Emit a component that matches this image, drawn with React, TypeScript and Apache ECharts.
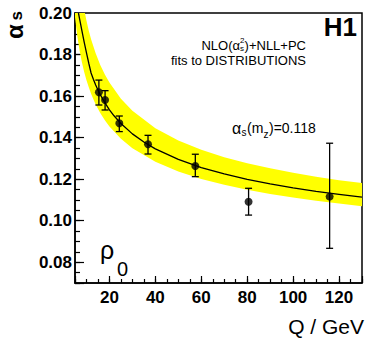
import React, { useEffect, useRef } from 'react';
import * as echarts from 'echarts';

// Measured data points (Q in GeV, alpha_s) with error bars
const qPoints = [15.4, 18.1, 24.3, 36.8, 57.4, 80.6, 115.9];
const alphaPoints = [0.1618, 0.1581, 0.1469, 0.1368, 0.1263, 0.1091, 0.1116];
const errHigh = [0.1677, 0.1626, 0.1504, 0.1411, 0.132, 0.1156, 0.1373];
const errLow = [0.1557, 0.1533, 0.1429, 0.1321, 0.1212, 0.1027, 0.0867];

// Fitted curve
const curveQ = [6.5, 7, 8, 9, 10, 11, 12, 13, 14, 15, 16, 18, 20, 22, 25, 30, 35, 40, 50, 60, 70, 80, 90, 100, 110, 120, 130];
const curveAlpha = [0.2, 0.1972, 0.1915, 0.186, 0.1808, 0.1758, 0.1711, 0.1681, 0.1653, 0.1629, 0.1607, 0.1568, 0.1534, 0.1505, 0.1468, 0.1418, 0.1379, 0.1346, 0.1295, 0.1256, 0.1225, 0.1199, 0.1177, 0.1158, 0.1141, 0.1127, 0.1113];

// Uncertainty band (upper / lower edges)
const bandQ = [5, 6, 7, 8, 9, 10, 11, 12, 14, 16, 18, 20, 25, 30, 40, 50, 60, 70, 80, 90, 100, 110, 120, 130];
const bandHigh = [0.2391, 0.2261, 0.2162, 0.2083, 0.2017, 0.1963, 0.1915, 0.1874, 0.1806, 0.175, 0.1704, 0.1665, 0.1587, 0.1529, 0.1445, 0.1386, 0.1342, 0.1306, 0.1277, 0.1252, 0.1231, 0.1212, 0.1195, 0.1181];
const bandLow = [0.1979, 0.1889, 0.1819, 0.1763, 0.1716, 0.1676, 0.1642, 0.1611, 0.156, 0.1519, 0.1484, 0.1454, 0.1394, 0.1349, 0.1284, 0.1237, 0.1201, 0.1173, 0.1149, 0.1129, 0.1112, 0.1096, 0.1083, 0.107];

// Tick labels
const xTicks = [20, 40, 60, 80, 100, 120];
const yTicks = [0.08, 0.1, 0.12, 0.14, 0.16, 0.18, 0.2];

const FONT = 'Liberation Sans, Arial, sans-serif';

function txt(text: string, x: number, y: number, size: number, opts: any = {}) {
  return {
    type: 'text',
    x,
    y,
    rotation: opts.rotation || 0,
    silent: true,
    z: 100,
    style: {
      text,
      fontSize: size,
      fontFamily: FONT,
      fontWeight: opts.bold ? 'bold' : 'normal',
      fill: '#000',
      textAlign: opts.align || 'left',
      textVerticalAlign: 'middle',
      verticalAlign: 'middle',
    },
  };
}

export default function App() {
  const ref = useRef<HTMLDivElement>(null);
  useEffect(() => {
    document.body.style.margin = '0';
    const chart = echarts.init(ref.current!, undefined, { renderer: 'svg' });
    const tickStyle = { color: '#000', width: 1.2 };
    const option: any = {
      animation: false,
      backgroundColor: '#fff',
      grid: { left: 75, top: 13, width: 292, height: 270, show: true, borderColor: '#000', borderWidth: 1.5, backgroundColor: 'transparent' },
      xAxis: [
        {
          type: 'value', min: 5, max: 130, minInterval: 20, maxInterval: 20, position: 'bottom',
          axisLine: { show: true, onZero: false, lineStyle: { color: '#000', width: 1.5 } },
          axisTick: { show: true, inside: true, length: 7, lineStyle: tickStyle },
          axisLabel: {
            color: '#000', fontSize: 17, fontWeight: 'bold', fontFamily: FONT, margin: 6,
            formatter: (v: number) => (xTicks.some((t) => Math.abs(t - v) < 1e-6) ? String(v) : ''),
          },
          splitLine: { show: false },
        },
        {
          type: 'value', min: 5, max: 130, interval: 5, position: 'bottom',
          axisLine: { show: false, onZero: false },
          axisTick: { show: true, inside: true, length: 4, lineStyle: tickStyle },
          axisLabel: { show: false },
          splitLine: { show: false },
        },
      ],
      yAxis: [
        {
          type: 'value', min: 0.07, max: 0.2, minInterval: 0.02, maxInterval: 0.02, position: 'left',
          axisLine: { show: true, onZero: false, lineStyle: { color: '#000', width: 1.5 } },
          axisTick: { show: true, inside: true, length: 9, lineStyle: tickStyle },
          axisLabel: {
            color: '#000', fontSize: 17, fontWeight: 'bold', fontFamily: FONT, margin: 3,
            formatter: (v: number) => {
              const t = yTicks.find((t) => Math.abs(t - v) < 1e-9);
              return t === undefined ? '' : t.toFixed(2);
            },
          },
          splitLine: { show: false },
        },
        {
          type: 'value', min: 0.07, max: 0.2, interval: 0.005, position: 'left',
          axisLine: { show: false, onZero: false },
          axisTick: { show: true, inside: true, length: 5, lineStyle: tickStyle },
          axisLabel: { show: false },
          splitLine: { show: false },
        },
      ],
      series: [
        {
          type: 'custom',
          clip: true,
          silent: true,
          z: 1,
          data: [[bandQ[0], bandLow[0]]],
          renderItem: (_p: any, api: any) => {
            const pts: number[][] = [];
            for (let i = 0; i < bandQ.length; i++) pts.push(api.coord([bandQ[i], bandHigh[i]]));
            for (let i = bandQ.length - 1; i >= 0; i--) pts.push(api.coord([bandQ[i], bandLow[i]]));
            return { type: 'polygon', shape: { points: pts }, style: { fill: '#ffff00', stroke: null } };
          },
        },
        {
          type: 'line',
          z: 3,
          data: curveQ.map((q, i) => [q, curveAlpha[i]]),
          showSymbol: false,
          smooth: false,
          lineStyle: { color: '#000', width: 1.3 },
          silent: true,
        },
        {
          type: 'custom',
          z: 4,
          silent: true,
          data: qPoints.map((q, i) => [q, errLow[i], errHigh[i]]),
          encode: { x: 0, y: [1, 2] },
          renderItem: (_p: any, api: any) => {
            const x = api.value(0);
            const lo = api.coord([x, api.value(1)]);
            const hi = api.coord([x, api.value(2)]);
            const w = 3.5;
            const st = { stroke: '#000', lineWidth: 1.3 };
            return {
              type: 'group',
              children: [
                { type: 'line', shape: { x1: lo[0], y1: lo[1], x2: hi[0], y2: hi[1] }, style: st },
                { type: 'line', shape: { x1: lo[0] - w, y1: lo[1], x2: lo[0] + w, y2: lo[1] }, style: st },
                { type: 'line', shape: { x1: hi[0] - w, y1: hi[1], x2: hi[0] + w, y2: hi[1] }, style: st },
              ],
            };
          },
        },
        {
          type: 'scatter',
          z: 5,
          silent: true,
          data: qPoints.map((q, i) => [q, alphaPoints[i]]),
          symbol: 'circle',
          symbolSize: 8,
          itemStyle: { color: '#000' },
        },
      ],
      graphic: [
        // y-axis title alpha_s (rotated)
        txt('α', 14.5, 39, 24, { bold: true, rotation: Math.PI / 2 }),
        txt('s', 16, 20.5, 17, { bold: true, rotation: Math.PI / 2 }),
        // H1
        txt('H1', 357, 27, 26, { bold: true, align: 'right' }),
        // NLO(alpha_s^2)+NLL+PC
        txt(')+NLL+PC', 306, 45.5, 13, { align: 'right' }),
        txt('2', 240, 40, 8),
        txt('s', 240, 48.5, 8),
        txt('NLO(α', 240, 45.5, 13, { align: 'right' }),
        txt('fits to DISTRIBUTIONS', 306, 60, 13, { align: 'right' }),
        // alpha_s(m_z)=0.118
        txt('α', 232, 128, 16),
        txt('s', 241.5, 132, 10),
        txt('(m', 247, 128, 14),
        txt('z', 263.5, 134, 10),
        txt(')=0.118', 269, 128, 14),
        // rho_0
        txt('ρ', 100, 250, 25),
        txt('0', 117, 269, 20),
        // x-axis title
        txt('Q / GeV', 364, 326, 21, { align: 'right' }),
      ],
    };
    chart.setOption(option);
    return () => chart.dispose();
  }, []);
  return <div ref={ref} style={{ width: 365, height: 341, position: 'absolute', left: 0, top: 0 }} />;
}
